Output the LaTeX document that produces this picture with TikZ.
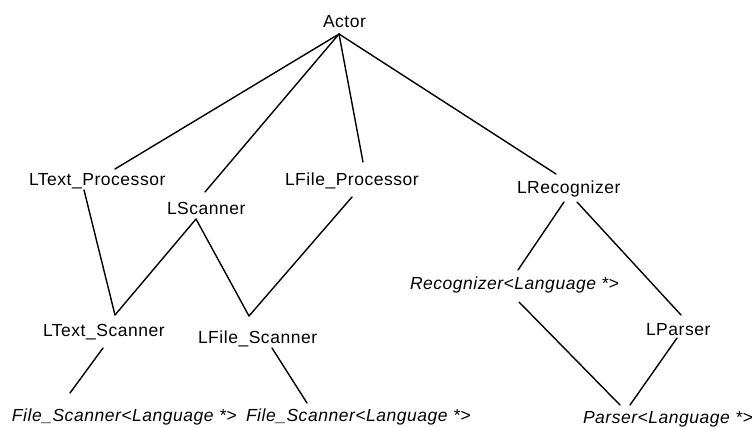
\documentclass[tikz,border=0pt]{standalone}
\usepackage{fontspec}
\setmainfont{Liberation Sans}[LetterSpace=3]
\begin{document}
\begin{tikzpicture}[x=1pt,y=-1pt,
  lbl/.style={anchor=base west,inner sep=0pt,outer sep=0pt,font=\fontsize{17.5}{20}\selectfont},
  tmpl/.style={lbl,font=\fontsize{17.5}{20}\selectfont\itshape},
  edge/.style={line width=1.4pt,line cap=round}]
\useasboundingbox (0,0) rectangle (752,426);
\node[lbl]  (actor) at (323,27)  {Actor};
\node[lbl]  (ltp)   at (29,185)  {LText\_Processor};
\node[lbl]  (lsc)   at (167,214) {LScanner};
\node[lbl]  (lfp)   at (285,185) {LFile\_Processor};
\node[lbl]  (lrec)  at (517,193) {LRecognizer};
\node[lbl]  (lts)   at (43,336)  {LText\_Scanner};
\node[lbl]  (lfs)   at (198,343) {LFile\_Scanner};
\node[tmpl] (fs1)   at (12,421)  {File\_Scanner<Language *>};
\node[tmpl] (fs2)   at (246,421) {File\_Scanner<Language *>};
\node[tmpl] (rec)   at (410,289) {Recognizer<Language *>};
\node[lbl]  (lpar)  at (646,335) {LParser};
\node[tmpl] (par)   at (583,423) {Parser<Language *>};

\draw[edge] ([shift={(16,7)}]actor.base west) -- ([shift={(86,-16)}]ltp.base west);
\draw[edge] ([shift={(16,7)}]actor.base west) -- ([shift={(38,-22)}]lsc.base west);
\draw[edge] ([shift={(16,7)}]actor.base west) -- ([shift={(78,-23)}]lfp.base west);
\draw[edge] ([shift={(16,7)}]actor.base west) -- ([shift={(39,-19)}]lrec.base west);
\draw[edge] ([shift={(55,5)}]ltp.base west) -- ([shift={(72,-21)}]lts.base west);
\draw[edge] ([shift={(29,5)}]lsc.base west) -- ([shift={(72,-21)}]lts.base west);
\draw[edge] ([shift={(29,5)}]lsc.base west) -- ([shift={(51,-27)}]lfs.base west);
\draw[edge] ([shift={(67,12)}]lfp.base west) -- ([shift={(51,-27)}]lfs.base west);
\draw[edge] ([shift={(60,12)}]lts.base west) -- ([shift={(58,-28)}]fs1.base west);
\draw[edge] ([shift={(74,5)}]lfs.base west) -- ([shift={(61,-18)}]fs2.base west);
\draw[edge] ([shift={(47,9)}]lrec.base west) -- ([shift={(108,-19)}]rec.base west);
\draw[edge] ([shift={(60,9)}]lrec.base west) -- ([shift={(35,-20)}]lpar.base west);
\draw[edge] ([shift={(109,13)}]rec.base west) -- ([shift={(37,-18)}]par.base west);
\draw[edge] ([shift={(31,3)}]lpar.base west) -- ([shift={(47,-18)}]par.base west);
\end{tikzpicture}
\end{document}
